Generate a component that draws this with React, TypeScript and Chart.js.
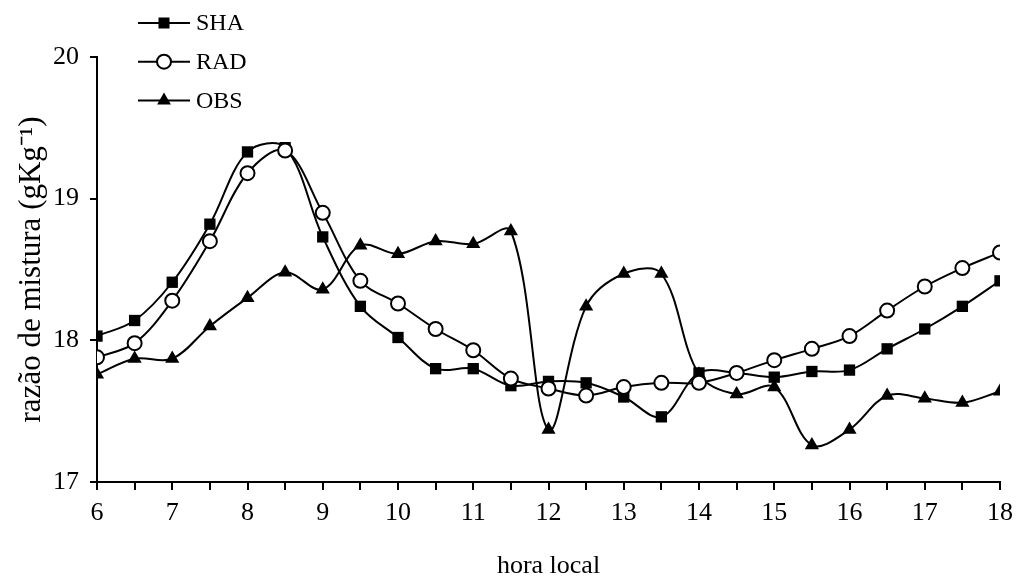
import React, { useEffect, useRef } from "react";
import { Chart, registerables } from "chart.js";

Chart.register(...registerables);

const hours = [6, 6.5, 7, 7.5, 8, 8.5, 9, 9.5, 10, 10.5, 11, 11.5, 12, 12.5, 13, 13.5, 14, 14.5, 15, 15.5, 16, 16.5, 17, 17.5, 18];

const sha = [18.03, 18.14, 18.41, 18.82, 19.33, 19.36, 18.73, 18.24, 18.02, 17.80, 17.80, 17.68, 17.71, 17.70, 17.60, 17.46, 17.77, 17.77, 17.74, 17.78, 17.79, 17.94, 18.08, 18.24, 18.42];
const rad = [17.88, 17.98, 18.28, 18.70, 19.18, 19.34, 18.90, 18.42, 18.26, 18.08, 17.93, 17.73, 17.66, 17.61, 17.67, 17.70, 17.70, 17.77, 17.86, 17.94, 18.03, 18.21, 18.38, 18.51, 18.62];
const obs = [17.76, 17.87, 17.87, 18.10, 18.30, 18.48, 18.36, 18.67, 18.61, 18.70, 18.68, 18.77, 17.37, 18.24, 18.47, 18.47, 17.76, 17.62, 17.67, 17.26, 17.37, 17.61, 17.59, 17.56, 17.64];

const seriesNames = ["SHA", "RAD", "OBS"];
const xTitle = "hora local";
const yTitle = "razão de mistura (gKg⁻¹)";

const FONT = "'Liberation Serif', 'Times New Roman', serif";

function drawMarker(ctx: CanvasRenderingContext2D, kind: string, x: number, y: number) {
  ctx.save();
  ctx.lineWidth = 2;
  ctx.strokeStyle = "#000";
  ctx.fillStyle = "#000";
  if (kind === "rect") {
    ctx.fillRect(x - 5.5, y - 5.5, 11, 11);
  } else if (kind === "circle") {
    ctx.beginPath();
    ctx.arc(x, y, 7, 0, Math.PI * 2);
    ctx.fillStyle = "#fff";
    ctx.fill();
    ctx.stroke();
  } else {
    const r = 8;
    ctx.beginPath();
    ctx.moveTo(x, y - r);
    ctx.lineTo(x + r * 0.866, y + r * 0.5);
    ctx.lineTo(x - r * 0.866, y + r * 0.5);
    ctx.closePath();
    ctx.fill();
  }
  ctx.restore();
}

const legendPlugin = {
  id: "customLegend",
  afterDraw(chart: any) {
    const ctx = chart.ctx as CanvasRenderingContext2D;
    const kinds = ["rect", "circle", "triangle"];
    ctx.save();
    seriesNames.forEach((name, i) => {
      const y = 23 + i * 38.7;
      ctx.strokeStyle = "#000";
      ctx.lineWidth = 2;
      ctx.beginPath();
      ctx.moveTo(138, y);
      ctx.lineTo(190, y);
      ctx.stroke();
      drawMarker(ctx, kinds[i], 164, y);
      ctx.fillStyle = "#000";
      ctx.font = `24px ${FONT}`;
      ctx.textAlign = "left";
      ctx.textBaseline = "middle";
      ctx.fillText(name, 196, y + 1);
    });
    ctx.restore();
  },
};

export default function App() {
  const ref = useRef<HTMLCanvasElement | null>(null);

  useEffect(() => {
    if (!ref.current) return;
    const mk = (arr: number[]) => arr.map((v, i) => ({ x: hours[i], y: v }));
    const common = {
      borderColor: "#000",
      borderWidth: 2,
      tension: 0.35,
      fill: false,
      pointBorderColor: "#000",
      pointBorderWidth: 2,
    };
    const chart = new Chart(ref.current, {
      type: "line",
      data: {
        datasets: [
          {
            ...common,
            label: seriesNames[1],
            data: mk(rad),
            pointStyle: "circle",
            pointRadius: 7,
            pointBackgroundColor: "#fff",
          },
          {
            ...common,
            label: seriesNames[0],
            data: mk(sha),
            pointStyle: "rect",
            pointRadius: 8,
            pointBorderWidth: 0,
            pointBackgroundColor: "#000",
          },
          {
            ...common,
            label: seriesNames[2],
            data: mk(obs),
            pointStyle: "triangle",
            pointRadius: 8.2,
            pointBorderWidth: 0,
            pointBackgroundColor: "#000",
          },
        ],
      },
      options: {
        responsive: false,
        animation: false,
        layout: { padding: { top: 57, right: 16, left: 0, bottom: 0 } },
        plugins: { legend: { display: false }, tooltip: { enabled: false } },
        scales: {
          x: {
            type: "linear",
            min: 6,
            max: 18,
            afterFit: (s: any) => {
              s.height = 96;
              s.paddingLeft = 0;
              s.paddingRight = 0;
            },
            border: { color: "#000", width: 2 },
            grid: { drawOnChartArea: false, drawTicks: true, tickLength: 8, color: "#000", lineWidth: 2 },
            ticks: {
              stepSize: 0.5,
              autoSkip: false,
              maxRotation: 0,
              padding: 8,
              color: "#000",
              font: { family: FONT, size: 26 },
              callback: (v: any) => (Number(v) % 1 === 0 ? String(v) : ""),
            },
            title: {
              display: true,
              text: xTitle,
              color: "#000",
              font: { family: FONT, size: 26, lineHeight: 0.9 },
              padding: { top: 0, bottom: 0 },
            },
          },
          y: {
            type: "linear",
            min: 17,
            max: 20,
            afterFit: (s: any) => {
              s.width = 97;
              s.paddingTop = 0;
              s.paddingBottom = 0;
            },
            border: { color: "#000", width: 2 },
            grid: { drawOnChartArea: false, drawTicks: true, tickLength: 7, color: "#000", lineWidth: 2 },
            ticks: {
              stepSize: 1,
              padding: 11,
              color: "#000",
              font: { family: FONT, size: 26 },
            },
            title: {
              display: true,
              text: yTitle,
              color: "#000",
              font: { family: FONT, size: 31, lineHeight: 1 },
              padding: { top: 16, bottom: 0 },
            },
          },
        },
      },
      plugins: [legendPlugin],
    } as any);
    return () => chart.destroy();
  }, []);

  return (
    <div style={{ position: "absolute", left: 0, top: 0, width: 1016, height: 578, background: "#fff" }}>
      <canvas ref={ref} width={1016} height={578} style={{ display: "block" }} />
    </div>
  );
}
